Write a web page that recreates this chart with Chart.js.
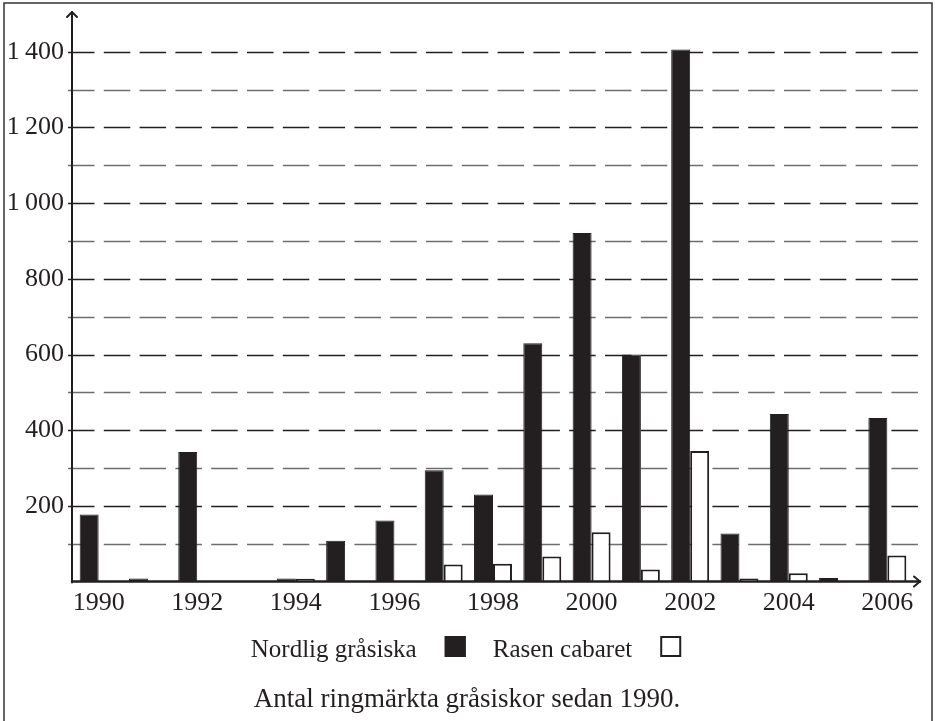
<!DOCTYPE html>
<html>
<head>
<meta charset="utf-8">
<script src="https://cdn.jsdelivr.net/npm/chart.js@4/dist/chart.umd.min.js"></script>
<style>
    html, body { margin: 0; padding: 0; background: #fff; }
    #wrap { width: 937px; height: 721px; position: relative; }
</style>
</head>
<body>
<div id="wrap"><canvas id="birdChart" width="937" height="721"></canvas></div>
<script>
// ============== DATA ==============
const years = ['1990', '1991', '1992', '1993', '1994', '1995', '1996', '1997', '1998',
               '1999', '2000', '2001', '2002', '2003', '2004', '2005', '2006'];

// Nordlig gråsiska (black bars)
const nordlig = [177, 8, 342, null, 8, 108, 161, 294, 230, 630, 921, 600, 1406, 127, 443, 9, 432];

// Rasen cabaret (white bars)
const cabaret = [null, null, null, null, 7, null, null, 45, 47, 66, 130, 32, 345, 8, 22, null, 69];

const yMin = 0;
const yMax = 1500;
const yStep = 100;
const yLabelled = [200, 400, 600, 800, 1000, 1200, 1400];

const captionText = 'Antal ringmärkta gråsiskor sedan 1990.';

const INK = '#231f20';
const FONT = "'Liberation Serif', 'Times New Roman', serif";

// Format 1400 -> "1 400"
function formatTick(v) {
    if (v >= 1000) {
        const s = String(v);
        return s.slice(0, s.length - 3) + '\u2009' + s.slice(-3);
    }
    return String(v);
}

// Frame, dashed gridlines, arrow axes, legend and caption
const axesPlugin = {
    id: 'axesPlugin',
    beforeDraw(chart) {
        const ctx = chart.ctx;
        ctx.save();
        ctx.fillStyle = '#fff';
        ctx.fillRect(0, 0, chart.width, chart.height);
        ctx.strokeStyle = '#333';
        ctx.lineWidth = 1.5;
        ctx.strokeRect(4, 3, 928, 760);
        ctx.restore();
    },
    beforeDatasetsDraw(chart) {
        const ctx = chart.ctx;
        const y = chart.scales.y;
        const area = chart.chartArea;
        const axisX = area.left - 2;
        ctx.save();
        // gridlines every 100
        for (let v = yStep; v < yMax; v += yStep) {
            const py = Math.round(y.getPixelForValue(v)) + 0.5;
            ctx.beginPath();
            ctx.setLineDash([26.5, 9.3]);
            ctx.lineWidth = 1.5;
            ctx.strokeStyle = yLabelled.includes(v) ? INK : '#6d6d6d';
            ctx.moveTo(axisX - 4, py);
            ctx.lineTo(area.right + 10, py);
            ctx.stroke();
        }
        ctx.restore();
    },
    afterDatasetsDraw(chart) {
        const ctx = chart.ctx;
        const y = chart.scales.y;
        const area = chart.chartArea;
        const axisX = area.left - 2;
        const baseY = y.getPixelForValue(0);
        ctx.save();
        ctx.strokeStyle = INK;
        ctx.setLineDash([]);
        ctx.lineCap = 'round';
        ctx.lineJoin = 'round';
        // y axis with arrow
        ctx.lineWidth = 2;
        ctx.beginPath();
        ctx.moveTo(axisX, baseY + 1);
        ctx.lineTo(axisX, 12);
        ctx.stroke();
        ctx.beginPath();
        ctx.moveTo(axisX - 5, 17);
        ctx.lineTo(axisX, 12);
        ctx.lineTo(axisX + 5, 17);
        ctx.stroke();
        // x axis with arrow
        ctx.lineWidth = 2.5;
        ctx.beginPath();
        ctx.moveTo(axisX, baseY);
        ctx.lineTo(920, baseY);
        ctx.stroke();
        ctx.lineWidth = 2;
        ctx.beginPath();
        ctx.moveTo(914, baseY - 5);
        ctx.lineTo(920, baseY);
        ctx.lineTo(914, baseY + 5);
        ctx.stroke();
        ctx.restore();
    },
    afterDraw(chart) {
        const ctx = chart.ctx;
        const sets = chart.data.datasets;
        ctx.save();
        ctx.fillStyle = INK;
        ctx.textBaseline = 'alphabetic';

        // legend: text first, then a box
        ctx.font = '25px ' + FONT;
        const box = 21;
        const gapText = 28, gapItem = 27;
        const widths = sets.map(ds => ctx.measureText(ds.label).width);
        let total = 0;
        widths.forEach((w, i) => { total += w + gapText + box + (i < widths.length - 1 ? gapItem : 0); });
        let x = 466 - total / 2;
        const boxTop = 636, baseline = 657;
        sets.forEach((ds, i) => {
            ctx.fillStyle = INK;
            ctx.textAlign = 'left';
            ctx.fillText(ds.label, x, baseline);
            x += widths[i] + gapText;
            ctx.fillStyle = ds.backgroundColor;
            ctx.fillRect(x, boxTop, box, box);
            ctx.strokeStyle = INK;
            ctx.lineWidth = 2;
            ctx.strokeRect(x + 1, boxTop + 1, box - 2, box - 2);
            x += box + gapItem;
        });

        // caption
        ctx.fillStyle = INK;
        ctx.font = '27px ' + FONT;
        ctx.textAlign = 'center';
        ctx.fillText(captionText, 467, 707);
        ctx.restore();
    }
};

const ctx = document.getElementById('birdChart').getContext('2d');

new Chart(ctx, {
    type: 'bar',
    data: {
        labels: years,
        datasets: [
            {
                label: 'Nordlig gråsiska',
                data: nordlig,
                backgroundColor: INK,
                borderColor: INK,
                borderWidth: 1
            },
            {
                label: 'Rasen cabaret',
                data: cabaret,
                backgroundColor: '#ffffff',
                borderColor: INK,
                borderWidth: 2
            }
        ]
    },
    options: {
        responsive: false,
        animation: false,
        devicePixelRatio: 1,
        layout: {
            padding: { left: 0, right: 25, top: 14, bottom: 105.5 }
        },
        datasets: {
            bar: {
                categoryPercentage: 0.77,
                barPercentage: 1.0,
                borderSkipped: 'start'
            }
        },
        plugins: {
            tooltip: { enabled: false },
            legend: { display: false },
            title: { display: false }
        },
        scales: {
            x: {
                grid: { display: false, drawTicks: false },
                border: { display: false },
                ticks: {
                    color: INK,
                    padding: 6,
                    maxRotation: 0,
                    autoSkip: false,
                    font: { family: FONT, size: 26 },
                    callback: function(value, index) {
                        return index % 2 === 0 ? years[index] : '';
                    }
                },
                afterFit: function(scale) {
                    scale.height = 34;
                    scale.paddingLeft = 0;
                    scale.paddingRight = 0;
                }
            },
            y: {
                min: yMin,
                max: yMax,
                grid: { display: false, drawTicks: false },
                border: { display: false },
                ticks: {
                    stepSize: yStep,
                    color: INK,
                    padding: 10,
                    font: { family: FONT, size: 26 },
                    callback: function(value) {
                        return yLabelled.includes(value) ? formatTick(value) : '';
                    }
                },
                afterFit: function(scale) {
                    scale.width = 74;
                    scale.paddingTop = 0;
                    scale.paddingBottom = 0;
                }
            }
        }
    },
    plugins: [axesPlugin]
});
</script>
</body>
</html>
